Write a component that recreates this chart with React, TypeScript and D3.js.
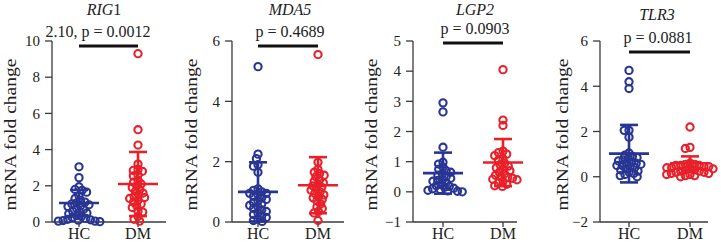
import React from "react";
import * as d3 from "d3";

// Gene panels
const genes = ["RIG", "MDA5", "LGP2", "TLR3"];
const geneSuffix = ["1", "", "", ""];
const pLabels = ["2.10, p = 0.0012", "p = 0.4689", "p = 0.0903", "p = 0.0881"];
const groups = ["HC", "DM"];

const yDomains: [number, number][] = [[0, 10], [0, 6], [-1, 5], [-2, 6]];
const yTicks = [[0, 2, 4, 6, 8, 10], [0, 2, 4, 6], [-1, 0, 1, 2, 3, 4, 5], [-2, 0, 2, 4, 6]];

// Fold-change measurements per gene, per group
const rig1HC = [3.05, 2.45, 1.95, 1.8, 1.65, 1.75, 1.45, 1.3, 1.2, 1.1, 1.05, 1.0, 0.95, 0.9, 0.85, 0.75, 0.7, 0.6, 0.55, 0.5, 0.45, 0.35, 0.3, 0.25, 0.2, 0.15, 0.1, 0.08, 0.05, 0.05, 0.02, 0.12];
const rig1DM = [9.3, 5.1, 4.25, 3.2, 2.9, 2.8, 2.85, 2.6, 2.55, 2.3, 2.2, 2.1, 2.0, 1.9, 1.8, 1.7, 1.6, 1.5, 1.4, 1.35, 1.3, 1.2, 1.1, 1.0, 0.9, 0.8, 0.6, 0.55, 0.3, 0.15, 0.05];
const mda5HC = [5.15, 2.25, 2.1, 1.9, 1.85, 1.65, 1.1, 1.05, 1.0, 0.95, 0.95, 0.9, 0.85, 0.8, 0.75, 0.7, 0.65, 0.6, 0.55, 0.5, 0.45, 0.4, 0.35, 0.3, 0.25, 0.2, 0.15, 0.1, 0.05, 0.02];
const mda5DM = [5.55, 1.98, 1.75, 1.65, 1.6, 1.55, 1.5, 1.4, 1.35, 1.3, 1.25, 1.2, 1.15, 1.1, 1.05, 1.0, 0.95, 0.9, 0.85, 0.8, 0.75, 0.7, 0.6, 0.5, 0.45, 0.35, 0.3, 0.05];
const lgp2HC = [2.95, 2.65, 1.48, 0.98, 0.92, 0.82, 0.75, 0.7, 0.65, 0.6, 0.55, 0.5, 0.45, 0.4, 0.38, 0.35, 0.3, 0.25, 0.2, 0.18, 0.15, 0.12, 0.1, 0.08, 0.05, 0.03, 0.02, 0.0];
const lgp2DM = [4.05, 2.38, 2.2, 1.35, 1.3, 1.25, 1.2, 1.1, 1.05, 0.95, 0.9, 0.85, 0.8, 0.75, 0.7, 0.65, 0.6, 0.55, 0.5, 0.48, 0.45, 0.42, 0.4, 0.35, 0.3, 0.25, 0.2, 0.18];
const tlr3HC = [4.7, 4.2, 3.9, 2.05, 2.05, 1.75, 1.05, 0.95, 0.9, 0.85, 0.8, 0.75, 0.7, 0.65, 0.6, 0.55, 0.5, 0.45, 0.4, 0.35, 0.3, 0.25, 0.2, 0.15, 0.1, 0.05, 0.0, 0.5, 0.6];
const tlr3DM = [2.2, 1.3, 1.25, 0.55, 0.5, 0.5, 0.45, 0.45, 0.4, 0.4, 0.35, 0.35, 0.3, 0.3, 0.25, 0.25, 0.2, 0.2, 0.15, 0.15, 0.1, 0.1, 0.05, 0.05, 0.0, 0.55, 0.6, 0.5];

const values = [[rig1HC, rig1DM], [mda5HC, mda5DM], [lgp2HC, lgp2DM], [tlr3HC, tlr3DM]];

// Mean ± SD per gene, per group
const means = [[1.05, 2.10], [1.0, 1.22], [0.62, 0.97], [1.02, 0.6]];
const sds = [[0.72, 1.77], [0.98, 0.93], [0.68, 0.78], [1.27, 0.3]];

// Panel geometry
const axisX = [52, 232, 413, 600];
const axisEnd = [166, 344, 517, 708];
const groupX: [number, number][] = [[79, 138], [258, 318], [443, 503], [629, 690]];
const titleX = [104, 290, 475, 657];
const titleY = [15, 15, 15, 20];
const pTextX = [98, 290, 475, 658];
const pTextY = [37, 37, 34, 43];
const sigY = [46, 46, 43, 52];
const labelX = [16, 197, 377, 568];
const yTop = 41;
const yBottom = 222;

const COLORS = ["#283593", "#e8202a"];
const AXIS = "#3a3a3a";
const FONT = "'Liberation Serif', 'Times New Roman', serif";
const R = 3.6;
const SEP = 4.8;

// Beeswarm offsets: each point is pushed sideways to the nearest free slot
function swarm(vals: number[], y: (v: number) => number): number[] {
  const order = vals.map((_, i) => i).sort((a, b) => y(vals[a]) - y(vals[b]));
  const placed: { x: number; y: number }[] = [];
  const out = new Array(vals.length).fill(0);
  for (const i of order) {
    const py = y(vals[i]);
    const iv: [number, number][] = [];
    for (const p of placed) {
      const dy = Math.abs(p.y - py);
      if (dy < SEP) {
        const dx = Math.sqrt(SEP * SEP - dy * dy);
        iv.push([p.x - dx, p.x + dx]);
      }
    }
    const cands = [0];
    iv.forEach(([a, b]) => cands.push(a, b));
    cands.sort((a, b) => Math.abs(a) - Math.abs(b) || a - b);
    let best = 0;
    for (const c of cands) {
      if (iv.every(([a, b]) => c <= a + 1e-6 || c >= b - 1e-6)) {
        best = c;
        break;
      }
    }
    placed.push({ x: best, y: py });
    out[i] = best;
  }
  return out;
}

function Panel({ k }: { k: number }) {
  const y = d3.scaleLinear().domain(yDomains[k]).range([yBottom, yTop]);
  const x = d3.scalePoint<string>().domain(groups).range(groupX[k]);
  const ax = axisX[k];
  const fmt = d3.format("d");
  return (
    <g>
      {/* title */}
      <text x={titleX[k]} y={titleY[k]} textAnchor="middle" fontFamily={FONT} fontSize={16} fontStyle="italic" fill="#222">
        {genes[k]}
        {geneSuffix[k] && <tspan fontStyle="normal">{geneSuffix[k]}</tspan>}
      </text>
      {/* y axis */}
      <line x1={ax} x2={ax} y1={yTop} y2={yBottom} stroke={AXIS} strokeWidth={1.3} />
      {yTicks[k].map((t) => (
        <g key={t}>
          <line x1={ax - 7} x2={ax} y1={y(t)} y2={y(t)} stroke={AXIS} strokeWidth={1.3} />
          <text x={ax - 12} y={y(t)} dy="0.35em" textAnchor="end" fontFamily={FONT} fontSize={15} fill="#222">
            {t < 0 ? "\u2212" + fmt(-t) : fmt(t)}
          </text>
        </g>
      ))}
      {/* x axis */}
      <line x1={ax} x2={axisEnd[k]} y1={yBottom} y2={yBottom} stroke={AXIS} strokeWidth={1.3} />
      {groups.map((g) => (
        <g key={g}>
          <line x1={x(g)} x2={x(g)} y1={yBottom} y2={yBottom + 5} stroke={AXIS} strokeWidth={1.3} />
          <text x={x(g)} y={239} textAnchor="middle" fontFamily={FONT} fontSize={16} fill="#222">{g}</text>
        </g>
      ))}
      {/* y label */}
      <text transform={`translate(${labelX[k]},${(yTop + yBottom) / 2 + 3}) rotate(-90)`} textAnchor="middle" fontFamily={FONT} fontSize={17} fill="#222" textLength={152} lengthAdjust="spacingAndGlyphs">
        mRNA fold change
      </text>
      {/* points */}
      {groups.map((g, gi) => {
        const vs = values[k][gi];
        const off = swarm(vs, y);
        return (
          <g key={g}>
            {vs.map((v, i) => (
              <circle key={i} cx={(x(g) as number) + off[i]} cy={y(v)} r={R} fill="none" stroke={COLORS[gi]} strokeWidth={2.1} />
            ))}
          </g>
        );
      })}
      {/* mean ± SD */}
      {groups.map((g, gi) => {
        const cx = x(g) as number;
        const m = means[k][gi];
        const s = sds[k][gi];
        const c = COLORS[gi];
        return (
          <g key={g} stroke={c} strokeWidth={2.6}>
            <line x1={cx} x2={cx} y1={y(m - s)} y2={y(m + s)} />
            <line x1={cx - 9} x2={cx + 9} y1={y(m + s)} y2={y(m + s)} />
            <line x1={cx - 9} x2={cx + 9} y1={y(m - s)} y2={y(m - s)} />
            <line x1={cx - 20} x2={cx + 20} y1={y(m)} y2={y(m)} />
          </g>
        );
      })}
      {/* significance */}
      <line x1={groupX[k][0]} x2={groupX[k][1]} y1={sigY[k]} y2={sigY[k]} stroke="#111" strokeWidth={3} />
      <text x={pTextX[k]} y={pTextY[k]} textAnchor="middle" fontFamily={FONT} fontSize={16} fill="#222">{pLabels[k]}</text>
    </g>
  );
}

export default function App() {
  return (
    <svg width={721} height={244} style={{ position: "absolute", left: 0, top: 0, background: "#fff" }}>
      <rect width={721} height={244} fill="#fff" />
      {genes.map((_, k) => (
        <Panel key={k} k={k} />
      ))}
    </svg>
  );
}
